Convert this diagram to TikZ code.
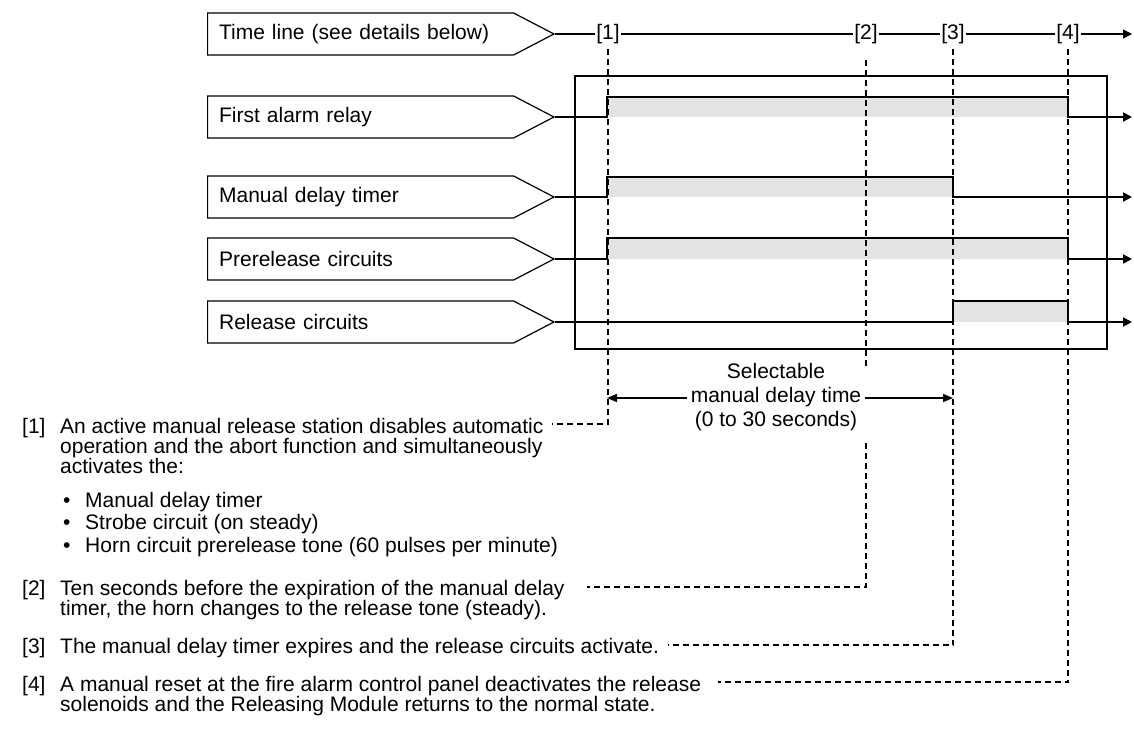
\documentclass[tikz,border=0pt]{standalone}
\usepackage{fontspec}
\setmainfont{Liberation Sans}
\usetikzlibrary{arrows.meta,shapes.symbols}

\begin{document}
\begin{tikzpicture}[x=1pt,y=-1pt, every node/.style={font=\fontsize{21}{24}\selectfont},
  tagbox/.style={draw,line width=1.2pt,signal,signal to=east,signal pointer angle=55,
  minimum height=42pt,text width=283pt,align=left,inner xsep=11.5pt,anchor=west},
  tnum/.style={fill=white,inner sep=1.5pt}, sigfill/.style={fill=black!11},
  sigline/.style={line width=2pt,miter limit=4,-{Triangle[length=9pt,width=9pt]}},
  frameline/.style={line width=2.5pt},
  leaderline/.style={dash pattern=on 6pt off 4pt,line width=1.5pt},
  notenum/.style={anchor=base west,inner sep=0pt},
  notetext/.style={anchor=north west,inner sep=0pt,align=left,font=\fontsize{21}{20}\selectfont},
  dimline/.style={line width=1.5pt,{Triangle[length=10pt,width=8pt]}-{Triangle[length=10pt,width=8pt]}}]
\useasboundingbox (0,0) rectangle (1134,740);

% signal names
\node[tagbox] (tline) at (207,34) {Time line (see details below)};
\node[tagbox] (relay) at (207,117) {First alarm relay};
\node[tagbox] (mdt) at (207,197) {Manual delay timer};
\node[tagbox] (prc) at (207,259) {Prerelease circuits};
\node[tagbox] (rlc) at (207,322) {Release circuits};

% time line
\node[tnum] (l1) at (608,34) {[1]};
\node[tnum] (l2) at (866,34) {[2]};
\node[tnum] (l3) at (953,34) {[3]};
\node[tnum] (l4) at (1068,34) {[4]};
\coordinate (tend) at (1132,34);
\draw[line width=1.2pt] (tline.east) -- (l1) -- (l2) -- (l3) -- (l4);
\draw[line width=1.2pt,-{Triangle[length=9pt,width=9pt]}] (l4) -- (tend);

% active levels
\fill[sigfill] (607,97) rectangle (1068,117);
\fill[sigfill] (607,177) rectangle (953,197);
\fill[sigfill] (607,238) rectangle (1068,259);
\fill[sigfill] (953,301) rectangle (1068,322);

% leaders
\coordinate (e1) at (552,424);
\coordinate (s2) at (866,366);
\coordinate (s2b) at (866,443);
\coordinate (e2) at (587,587);
\coordinate (e3) at (668,645);
\coordinate (e4) at (718,682);
\draw[leaderline,shorten <=4pt] (l1.south) |- (e1);
\draw[leaderline,shorten <=15pt] (l2.south) -- (s2);
\draw[leaderline] (s2b) |- (e2);
\draw[leaderline,shorten <=4pt] (l3.south) |- (e3);
\draw[leaderline,shorten <=4pt] (l4.south) |- (e4);

% waveforms
\draw[sigline] (relay.east) -| (607,97) -| (1068,117) -- (1132,117);
\draw[sigline] (mdt.east) -| (607,177) -| (953,197) -- (1132,197);
\draw[sigline] (prc.east) -| (607,238) -| (1068,259) -- (1132,259);
\draw[sigline] (rlc.east) -| (953,301) -| (1068,322) -- (1132,322);
\draw[frameline] (575,76) rectangle (1107,349);

% delay span
\coordinate (a1) at (607,398);
\coordinate (a3) at (953,398);
\draw[dimline] (a1) -- (a3);
\node[fill=white,inner xsep=4pt,inner ysep=0pt,align=center] (sel) at (776,397)
  {Selectable\\manual delay time\\(0 to 30 seconds)};

% notes
\node[notenum] (k1) at (22,433) {[1]};
\node[notetext] (n1) at (60,417.7) {An active manual release station disables automatic\\operation
  and the abort function and simultaneously\\activates the:};
\node[notetext,font=\fontsize{21}{22.7}\selectfont] (blist) at (63,491.7)
  {\makebox[22pt][l]{•}Manual delay timer\\\makebox[22pt][l]{•}Strobe circuit (on steady)\\
  \makebox[22pt][l]{•}Horn circuit prerelease tone (60 pulses per minute)};
\node[notenum] (k2) at (22,595) {[2]};
\node[notetext] (n2) at (60,579.7) {Ten seconds before the expiration of the manual delay\\timer,
  the horn changes to the release tone (steady).};
\node[notenum] (k3) at (22,653) {[3]};
\node[notetext] (n3) at (60,637.7) {The manual delay timer expires and the release circuits activate.};
\node[notenum] (k4) at (22,691) {[4]};
\node[notetext] (n4) at (60,675.7) {A manual reset at the fire alarm control panel deactivates the
  release\\solenoids and the Releasing Module returns to the normal state.};
\end{tikzpicture}
\end{document}
